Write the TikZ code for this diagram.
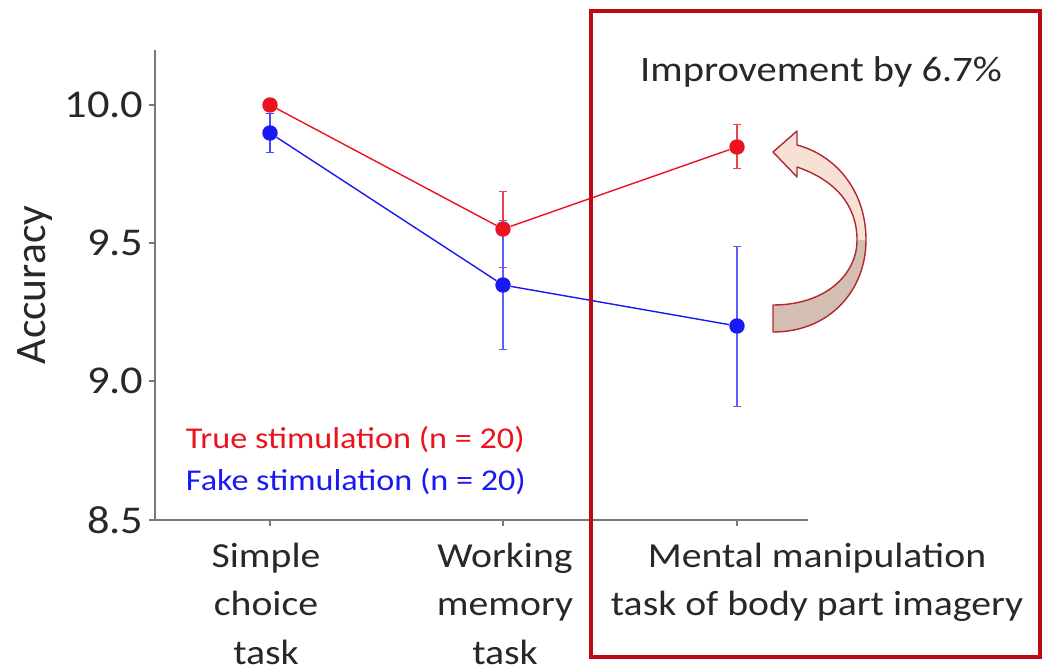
\documentclass[tikz,border=0pt]{standalone}
\usepackage{fontspec}
\setmainfont{Carlito}[FakeStretch=1.13]
\newfontfamily\plainfont{Carlito}
\usetikzlibrary{positioning, calc, arrows.meta}
\definecolor{truered}{RGB}{235,20,30}
\definecolor{fakeblue}{RGB}{25,25,245}
\definecolor{boxred}{RGB}{190,10,20}
\definecolor{axisgray}{RGB}{120,120,120}
\definecolor{textgray}{RGB}{40,40,40}
\definecolor{arrowface}{RGB}{247,225,212}
\definecolor{arrowback}{RGB}{212,190,178}
\definecolor{arrowedge}{RGB}{175,40,50}
\tikzset{
  chart/.style={
	x=0.025cm, y=-0.025cm, % one unit is one pixel of the reference
	font=\fontsize{25}{34.5}\selectfont, % text size of the labels
	text=textgray,
  },
  truept/.style={circle, fill=truered, inner sep=0pt, minimum size=11pt}, % red marker
  fakept/.style={circle, fill=fakeblue, inner sep=0pt, minimum size=11pt}, % blue marker
  trueline/.style={draw=truered, line width=1pt},
  fakeline/.style={draw=fakeblue, line width=1pt},
  errbar/.style={line width=0.9pt, {Bar[width=5pt]}-{Bar[width=5pt]}}, % error bar with caps
  ticklabel/.style={anchor=east, font=\fontsize{28}{28}\selectfont},
  catlabel/.style={anchor=north, align=center},
  legend/.style={anchor=west, font=\fontsize{21.5}{26}\selectfont},
}
\begin{document}
\begin{tikzpicture}[chart]
	  \useasboundingbox (0,0) rectangle (1044,671);
	  % axes
	  \coordinate (ytop) at (155,50);
	  \coordinate (orig) at (155,520);
	  \coordinate (xend) at (808,520);
	  \draw[axisgray, line width=1.4pt] (ytop) -- (orig) -- (xend);
	  \foreach \y/\v in {105/10.0, 243/9.5, 381/9.0, 520/8.5}
		  \draw[axisgray, line width=1.2pt] (155,\y) -- (149,\y) node[ticklabel, text=textgray] {\v};
	  \foreach \x in {270, 503, 737}
		  \draw[axisgray, line width=1pt] (\x,520) -- (\x,526);
	  \node[rotate=90, font=\plainfont\fontsize{31}{31}\selectfont] (ylab) at (35,285) {Accuracy};
	  % error bars
	  \draw[errbar, fakeblue!80] (270,113) -- (270,153);
	  \draw[errbar, truered!80] (503,191) -- (503,268);
	  \draw[errbar, fakeblue!70] (503,220) -- (503,350);
	  \draw[errbar, truered!80] (737,124) -- (737,169);
	  \draw[errbar, fakeblue!70] (737,246) -- (737,407);
	  % data points
	  \node[truept] (tr1) at (270,105) {};
	  \node[truept] (tr2) at (503,229) {};
	  \node[truept] (tr3) at (737,147) {};
	  \node[fakept] (fk1) at (270,133) {};
	  \node[fakept] (fk2) at (503,285) {};
	  \node[fakept] (fk3) at (737,326) {};
	  \draw[trueline] (tr1) -- (tr2) -- (tr3);
	  \draw[fakeline] (fk1) -- (fk2) -- (fk3);
	  % legend
	  \node[legend, text=truered] (lgtrue) at (181,440) {True stimulation (n = 20)};
	  \node[legend, text=fakeblue] (lgfake) at (181,482) {Fake stimulation (n = 20)};
	  % category labels
	  \node[catlabel] (cat1) at (266,538) {Simple\\choice\\task};
	  \node[catlabel] (cat2) at (505,538) {Working\\memory\\task};
	  \node[catlabel] (cat3) at (817,538) {Mental manipulation\\task of body part imagery};
	  % highlight box
	  \draw[boxred, line width=3pt] (591,11) rectangle (1040,657);
	  \node[font=\fontsize{25.5}{30}\selectfont] (impr) at (821,72) {Improvement by 6.7\%};
	  % curved arrow
	  \def\arrowpath{(773,332) .. controls (830,332) and (866,290) .. (866,240)
		  .. controls (866,190) and (835,155) .. (797,145)
		  -- (797,131) -- (773,152) -- (797,177) -- (797,167)
		  .. controls (835,180) and (857,205) .. (857,240)
		  .. controls (857,275) and (825,305) .. (773,305) -- cycle}
	  \fill[arrowface] \arrowpath;
	  \begin{scope}
		  \clip (760,240) rectangle (880,340);
		  \fill[arrowback] \arrowpath;
	  \end{scope}
	  \draw[arrowedge, line width=1pt, line join=round] \arrowpath;
\end{tikzpicture}
\end{document}
